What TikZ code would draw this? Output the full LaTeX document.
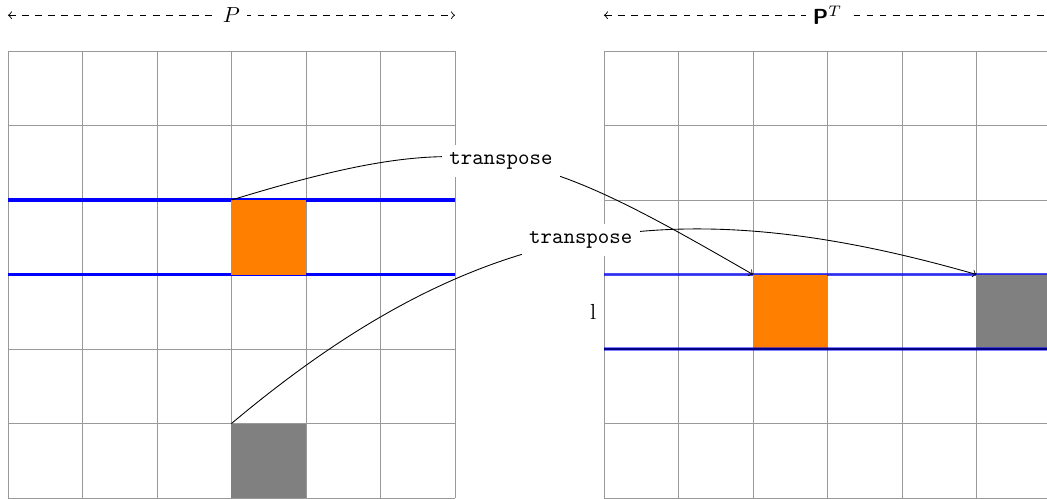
\documentclass[tikz,border=0pt]{standalone}
\begin{document}
\begin{tikzpicture}[x=1.2cm,y=1.2cm,
  gridline/.style={gray!80, line width=0.4pt},
  selline/.style={blue, line width=1.4pt},
  selfaint/.style={blue, opacity=0.7, line width=1.4pt},
  cellbox/.style={minimum size=1.2cm, inner sep=0pt, outer sep=0pt, anchor=south west},
  tlabel/.style={fill=white, font=\ttfamily},
  span/.style={dashed, <->}]
\useasboundingbox (-0.107,0) rectangle (13.947,6.685);
% left grid
\draw[gridline, step=1] (0,0) grid (6,6);
\draw[selline] (0,4) -- (6,4);
\draw[selline] (0,3) -- (6,3);
\node[cellbox, fill=orange] (o1) at (3,3) {};
\node[cellbox, fill=gray] (g1) at (3,0) {};
% right grid
\draw[gridline, step=1] (8,0) grid (14,6);
\draw[selfaint] (8,3) -- (14,3);
\node[cellbox, fill=orange] (o2) at (10,2) {};
\node[cellbox, fill=gray] (g2) at (13,2) {};
\draw[black, line width=1pt] (8,2) -- (14,2);
\draw[selfaint, opacity=0.5] (8,2) -- (14,2);
\node[left] (lbl) at (8,2.5) {l};
% spans
\coordinate (pl) at (0,6.48);
\coordinate (pr) at (6,6.48);
\draw[span] (pl) -- node[fill=white] (plab) {$P$} (pr);
\coordinate (ql) at (8,6.48);
\coordinate (qr) at (14,6.48);
\draw[span] (ql) -- node[fill=white] (qlab) {\textsf{\textbf{P}}$^T$} (qr);
% transposes
\draw[->] (o1.north west) to[out=17,in=150,looseness=1.25] node[tlabel] (t1) {transpose} (o2.north west);
\draw[->] (g1.north west) to[out=40,in=164,looseness=1.07] node[tlabel] (t2) {transpose} (g2.north west);
\end{tikzpicture}
\end{document}
